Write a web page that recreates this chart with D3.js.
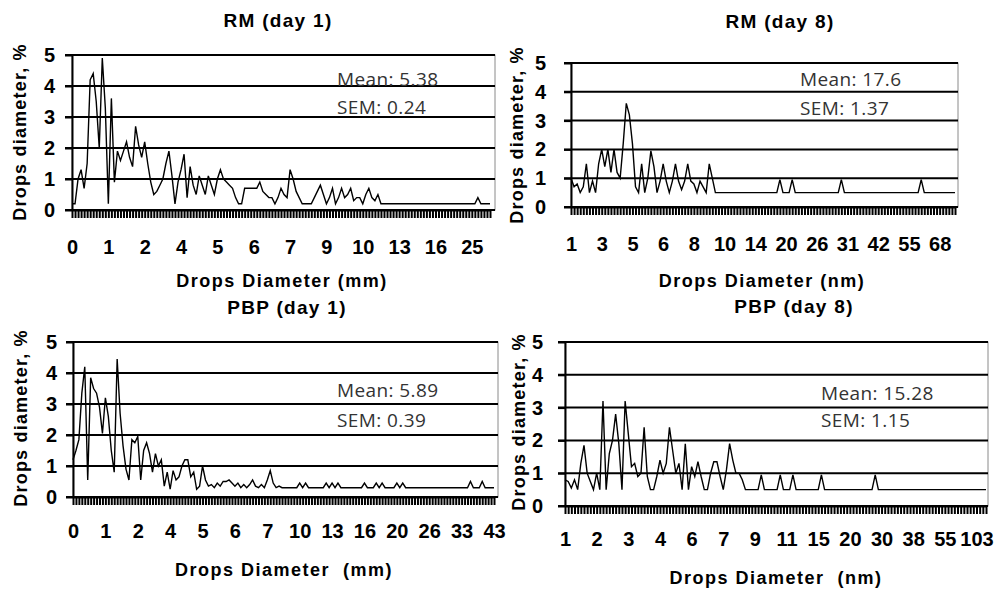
<!DOCTYPE html>
<html>
<head>
<meta charset="utf-8">
<script src="https://cdn.jsdelivr.net/npm/d3@7"></script>
<style>
    html, body { margin: 0; padding: 0; background: #fff; }
    svg { display: block; }
    text { white-space: pre; }
</style>
</head>
<body>
<div id="chart"></div>
<script>
"use strict";

// values, one per category (Drops diameter, %)
const rmDay1 = [
    0.2, 0.2, 1.0, 1.3, 0.7, 1.5, 4.2, 4.4, 3.5, 2.0,
    4.9, 3.3, 0.2, 3.6, 0.9, 1.9, 1.6, 1.9, 2.2, 1.7,
    1.4, 2.7, 2.1, 1.7, 2.2, 1.5, 0.9, 0.5, 0.6, 0.8,
    1.0, 1.5, 1.9, 1.1, 0.2, 0.9, 1.3, 1.8, 0.4, 1.4,
    0.8, 0.5, 1.1, 0.8, 0.5, 1.1, 0.8, 0.5, 1.0, 1.3,
    1.0, 0.9, 0.8, 0.7, 0.4, 0.2, 0.2, 0.7, 0.7, 0.7,
    0.7, 0.7, 0.9, 0.6, 0.5, 0.4, 0.4, 0.2, 0.4, 0.7,
    0.5, 0.4, 1.3, 1.0, 0.6, 0.4, 0.2, 0.2, 0.2, 0.2,
    0.4, 0.6, 0.8, 0.5, 0.2, 0.4, 0.7, 0.2, 0.4, 0.7,
    0.4, 0.5, 0.7, 0.3, 0.4, 0.4, 0.2, 0.5, 0.7, 0.4,
    0.3, 0.5, 0.2, 0.2, 0.2, 0.2, 0.2, 0.2, 0.2, 0.2,
    0.2, 0.2, 0.2, 0.2, 0.2, 0.2, 0.2, 0.2, 0.2, 0.2,
    0.2, 0.2, 0.2, 0.2, 0.2, 0.2, 0.2, 0.2, 0.2, 0.2,
    0.2, 0.2, 0.2, 0.2, 0.4, 0.2, 0.2, 0.2, 0.2
];
const rmDay8 = [
    1.0, 0.7, 0.8, 0.5, 0.7, 1.5, 0.5, 0.9, 0.5, 1.5,
    2.0, 1.4, 2.0, 1.2, 2.0, 1.2, 1.0, 2.2, 3.6, 3.2,
    2.2, 0.7, 0.5, 1.5, 0.5, 1.0, 1.95, 1.4, 0.5, 0.9,
    1.5, 0.9, 0.5, 0.9, 1.5, 0.9, 0.6, 0.9, 1.5, 0.9,
    0.8, 0.5, 0.9, 0.7, 0.5, 1.5, 1.0, 0.5, 0.5, 0.5,
    0.5, 0.5, 0.5, 0.5, 0.5, 0.5, 0.5, 0.5, 0.5, 0.5,
    0.5, 0.5, 0.5, 0.5, 0.5, 0.5, 0.5, 0.5, 0.95, 0.5,
    0.5, 0.5, 0.95, 0.5, 0.5, 0.5, 0.5, 0.5, 0.5, 0.5,
    0.5, 0.5, 0.5, 0.5, 0.5, 0.5, 0.5, 0.5, 0.95, 0.5,
    0.5, 0.5, 0.5, 0.5, 0.5, 0.5, 0.5, 0.5, 0.5, 0.5,
    0.5, 0.5, 0.5, 0.5, 0.5, 0.5, 0.5, 0.5, 0.5, 0.5,
    0.5, 0.5, 0.5, 0.5, 0.95, 0.5, 0.5, 0.5, 0.5, 0.5,
    0.5, 0.5, 0.5, 0.5, 0.5, 0.5
];
const pbpDay1 = [
    1.2, 1.5, 1.85, 3.35, 4.2, 0.55, 3.85, 3.5, 3.35, 2.9,
    2.05, 3.2, 2.6, 1.5, 0.8, 4.45, 2.7, 1.65, 0.9, 0.55,
    1.85, 1.75, 1.95, 0.55, 1.5, 1.75, 1.4, 0.8, 1.4, 1.0,
    1.2, 0.35, 0.8, 0.25, 0.85, 0.55, 0.65, 1.0, 1.2, 1.2,
    0.65, 0.8, 0.25, 0.35, 1.0, 0.55, 0.35, 0.4, 0.3, 0.45,
    0.35, 0.5, 0.5, 0.55, 0.45, 0.35, 0.45, 0.3, 0.4, 0.3,
    0.4, 0.55, 0.35, 0.3, 0.4, 0.3, 0.55, 0.85, 0.45, 0.3,
    0.35, 0.3, 0.3, 0.3, 0.3, 0.3, 0.3, 0.45, 0.3, 0.45,
    0.3, 0.3, 0.3, 0.3, 0.3, 0.3, 0.45, 0.3, 0.45, 0.3,
    0.45, 0.3, 0.3, 0.3, 0.3, 0.3, 0.3, 0.3, 0.3, 0.45,
    0.3, 0.3, 0.3, 0.45, 0.3, 0.45, 0.3, 0.3, 0.3, 0.3,
    0.45, 0.3, 0.45, 0.3, 0.3, 0.3, 0.3, 0.3, 0.3, 0.3,
    0.3, 0.3, 0.3, 0.3, 0.3, 0.3, 0.3, 0.3, 0.3, 0.3,
    0.3, 0.3, 0.3, 0.3, 0.3, 0.5, 0.3, 0.3, 0.3, 0.5,
    0.3, 0.3, 0.3, 0.3
];
const pbpDay8 = [
    0.8, 0.75, 0.55, 0.8, 0.5, 1.3, 1.85, 1.0, 0.75, 0.5,
    1.0, 0.5, 3.2, 0.5, 1.6, 2.0, 2.8, 1.9, 0.5, 3.2,
    2.2, 1.2, 1.3, 0.9, 1.0, 2.4, 0.9, 0.5, 0.5, 0.9,
    1.4, 1.0, 1.3, 2.4, 1.7, 1.0, 1.3, 0.5, 1.9, 0.5,
    1.2, 0.9, 1.35, 0.9, 0.5, 0.5, 1.0, 1.35, 1.35, 0.9,
    0.5, 1.1, 1.9, 1.4, 1.0, 1.0, 0.8, 0.5, 0.5, 0.5,
    0.5, 0.5, 0.95, 0.5, 0.5, 0.5, 0.5, 0.5, 0.95, 0.5,
    0.5, 0.5, 0.95, 0.5, 0.5, 0.5, 0.5, 0.5, 0.5, 0.5,
    0.5, 0.95, 0.5, 0.5, 0.5, 0.5, 0.5, 0.5, 0.5, 0.5,
    0.5, 0.5, 0.5, 0.5, 0.5, 0.5, 0.5, 0.5, 0.95, 0.5,
    0.5, 0.5, 0.5, 0.5, 0.5, 0.5, 0.5, 0.5, 0.5, 0.5,
    0.5, 0.5, 0.5, 0.5, 0.5, 0.5, 0.5, 0.5, 0.5, 0.5,
    0.5, 0.5, 0.5, 0.5, 0.5, 0.5, 0.5, 0.5, 0.5, 0.5,
    0.5, 0.5, 0.5, 0.5
];

// category labels that are printed (every n-th category)
const rmDay1Ticks = ["0", "1", "2", "4", "5", "6", "7", "9", "10", "13", "16", "25"];
const rmDay8Ticks = ["1", "3", "5", "6", "8", "10", "14", "20", "26", "31", "42", "55", "68"];
const pbpDay1Ticks = ["0", "1", "2", "4", "5", "6", "7", "10", "13", "16", "20", "26", "33", "43"];
const pbpDay8Ticks = ["1", "2", "3", "4", "6", "7", "9", "11", "15", "20", "30", "38", "55", "103"];
const yTicks = [0, 1, 2, 3, 4, 5];

const titles = ["RM (day 1)", "RM (day 8)", "PBP (day 1)", "PBP (day 8)"];
const xTitles = ["Drops Diameter (mm)", "Drops Diameter (nm)", "Drops Diameter  (mm)", "Drops Diameter  (nm)"];
const meanLabels = ["Mean: 5.38", "Mean: 17.6", "Mean: 5.89", "Mean: 15.28"];
const semLabels = ["SEM: 0.24", "SEM: 1.37", "SEM: 0.39", "SEM: 1.15"];

const W = 999, H = 590;
const FONT = "'Liberation Sans', Arial, sans-serif";

// plot boxes and text anchors for each of the four panels
const LAYOUT = [
    {x0: 72, x1: 490, right: 495, top: 55, bottom: 210, every: 12, tickY: 254, yGap: 17,
        title: [278, 27], xTitle: [282, 287], yTitle: [20, 132], stat: [337, 86, 114]},
    {x0: 571, x1: 955, right: 958, top: 63, bottom: 207, every: 10, tickY: 251, yGap: 25,
        title: [780, 28], xTitle: [762, 287], yTitle: [517, 135], stat: [800, 86, 115]},
    {x0: 73, x1: 494, right: 498, top: 342, bottom: 497, every: 11, tickY: 538, yGap: 16,
        title: [287, 314], xTitle: [284, 576], yTitle: [21, 418], stat: [337, 397, 427]},
    {x0: 565, x1: 986, right: 988, top: 342, bottom: 506, every: 10, tickY: 546, yGap: 22,
        title: [794, 313], xTitle: [776, 584], yTitle: [519, 422], stat: [821, 400, 427]}
];

function drawPanel(svg, data, ticks, k) {
    const p = LAYOUT[k];
    const x = d3.scalePoint().domain(d3.range(data.length)).range([p.x0, p.x1]);
    const y = d3.scaleLinear().domain([0, 5]).range([p.bottom, p.top]);
    const g = svg.append("g");

    g.append("rect")
        .attr("x", p.x0).attr("y", p.top)
        .attr("width", p.right - p.x0).attr("height", p.bottom - p.top)
        .attr("fill", "none").attr("stroke", "#8a8a8a").attr("stroke-width", 1);

    g.selectAll(".grid")
        .data(yTicks)
        .enter()
        .append("line")
        .attr("x1", p.x0 - 7).attr("x2", p.right)
        .attr("y1", function (d) { return y(d); })
        .attr("y2", function (d) { return y(d); })
        .attr("stroke", "#000").attr("stroke-width", 2);

    const fs = 20;
    const xAxis = d3.axisBottom(x)
        .tickValues(x.domain())
        .tickFormat(function (i) {
            return i % p.every === 0 ? (ticks[i / p.every] || "") : "";
        })
        .tickSize(8).tickSizeOuter(0)
        .tickPadding(p.tickY - p.bottom - 8 - 0.71 * fs);
    const ax = g.append("g").attr("transform", "translate(0," + p.bottom + ")").call(xAxis);
    ax.select(".domain").attr("stroke-width", 2);
    ax.selectAll(".tick line").attr("stroke", "#000").attr("stroke-width", 2);
    ax.selectAll("text").attr("font-family", FONT).attr("font-weight", "bold")
        .attr("font-size", fs).attr("fill", "#000");

    const yAxis = d3.axisLeft(y).tickValues(yTicks).tickFormat(d3.format("d"))
        .tickSize(7).tickSizeOuter(0).tickPadding(p.yGap - 7);
    const ay = g.append("g").attr("transform", "translate(" + p.x0 + ",0)").call(yAxis);
    ay.select(".domain").attr("stroke-width", 2);
    ay.selectAll(".tick line").attr("stroke-width", 2);
    ay.selectAll("text").attr("font-family", FONT).attr("font-weight", "bold")
        .attr("font-size", 20).attr("fill", "#000");

    const line = d3.line()
        .x(function (d, i) { return x(i); })
        .y(function (d) { return y(d); });
    g.append("path")
        .datum(data)
        .attr("d", line)
        .attr("fill", "none").attr("stroke", "#000").attr("stroke-width", 1.4);

    g.append("text")
        .attr("x", p.title[0]).attr("y", p.title[1])
        .attr("text-anchor", "middle")
        .attr("font-family", FONT).attr("font-weight", "bold").attr("font-size", 19)
        .attr("letter-spacing", 1.3)
        .text(titles[k]);

    g.append("text")
        .attr("x", p.xTitle[0]).attr("y", p.xTitle[1])
        .attr("text-anchor", "middle")
        .attr("font-family", FONT).attr("font-weight", "bold").attr("font-size", 18)
        .attr("letter-spacing", 1.5)
        .text(xTitles[k]);

    g.append("text")
        .attr("transform", "translate(" + p.yTitle[0] + "," + p.yTitle[1] + ") rotate(-90)")
        .attr("text-anchor", "middle").attr("dy", "0.35em")
        .attr("font-family", FONT).attr("font-weight", "bold").attr("font-size", 18)
        .attr("letter-spacing", 1.2)
        .text("Drops diameter, %");

    const stats = [meanLabels[k], semLabels[k]];
    g.selectAll(".stat")
        .data(stats)
        .enter()
        .append("text")
        .attr("x", p.stat[0])
        .attr("y", function (d, i) { return p.stat[i + 1]; })
        .attr("font-family", "'Open Sans', sans-serif").attr("font-size", 19)
        .attr("letter-spacing", 0.4)
        .attr("fill", "#333")
        .text(function (d) { return d; });
}

const svg = d3.select("#chart").append("svg").attr("width", W).attr("height", H);
svg.append("rect").attr("width", W).attr("height", H).attr("fill", "#fff");
drawPanel(svg, rmDay1, rmDay1Ticks, 0);
drawPanel(svg, rmDay8, rmDay8Ticks, 1);
drawPanel(svg, pbpDay1, pbpDay1Ticks, 2);
drawPanel(svg, pbpDay8, pbpDay8Ticks, 3);
</script>
</body>
</html>
